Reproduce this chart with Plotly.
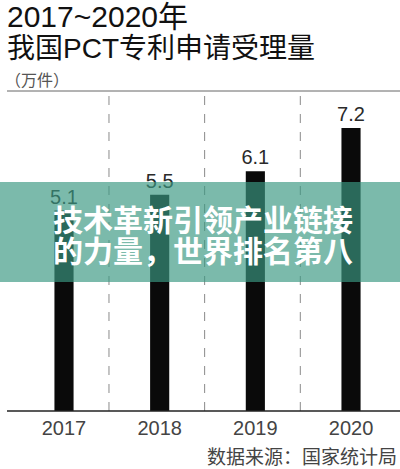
import plotly.graph_objects as go

years = [2017, 2018, 2019, 2020]
values = [5.1, 5.5, 6.1, 7.2]
value_labels = ["5.1", "5.5", "6.1", "7.2"]
tick_labels = ["2017", "2018", "2019", "2020"]

title_line1 = "2017~2020年"
title_line2 = "我国PCT专利申请受理量"
unit_text = "（万件）"
overlay_line1 = "技术革新引领产业链接"
overlay_line2 = "的力量，世界排名第八"
source_text = "数据来源：国家统计局"

W, H = 400, 469
TOP, BOTTOM = 91, 58
PLOT_H = H - TOP - BOTTOM
FONT = "Liberation Sans, Noto Sans CJK SC, sans-serif"
CJK = "Noto Sans CJK SC, sans-serif"


def py2paper(py):
    return (H - BOTTOM - py) / PLOT_H


fig = go.Figure()
fig.add_trace(go.Bar(
    x=years, y=values, width=0.2,
    marker=dict(color="#0a0a0a", line=dict(width=0)),
    text=value_labels, textposition="outside", cliponaxis=False,
    constraintext="none",
    textfont=dict(family=FONT, size=20, color="#2a2a2a"),
    hoverinfo="skip",
))

shapes = []
shapes.append(dict(type="line", xref="paper", yref="paper", x0=7/W, x1=1, y0=1, y1=1,
                   line=dict(color="#666", width=1)))
shapes.append(dict(type="line", xref="paper", yref="paper", x0=7/W, x1=1, y0=0, y1=0,
                   line=dict(color="#222", width=1.5), layer="above"))
for yv in years[:-1]:
    shapes.append(dict(type="line", xref="x", yref="paper", x0=yv + 0.47, x1=yv + 0.47,
                       y0=0, y1=1, line=dict(color="#8a8a8a", width=1, dash="dash"),
                       layer="below"))
shapes.append(dict(type="rect", xref="paper", yref="paper", x0=0, x1=1,
                   y0=py2paper(282), y1=py2paper(182), fillcolor="rgba(58,152,130,0.67)",
                   line=dict(width=0), layer="above"))


def px_ann(text, x, y, size, color, family, xanchor="left", weight=None):
    f = dict(size=size, color=color, family=family)
    if weight:
        f["weight"] = weight
    return dict(text=text, x=x / W, y=py2paper(y), xref="paper", yref="paper",
                xanchor=xanchor, yanchor="middle", showarrow=False, font=f)


annotations = [
    px_ann(title_line1, 5, 16, 30, "#111", FONT),
    px_ann(title_line2, 5, 48, 28, "#111", FONT),
    px_ann(unit_text, 3, 79, 16, "#555", CJK),
    px_ann(overlay_line1, 51, 218, 30, "#ffffff", CJK, weight="bold"),
    px_ann(overlay_line2, 51, 249, 30, "#ffffff", CJK, weight="bold"),
    px_ann(source_text, 399, 455, 19, "#444", CJK, xanchor="right"),
]

fig.update_layout(
    width=W, height=H,
    margin=dict(l=0, r=0, t=TOP, b=BOTTOM),
    paper_bgcolor="white", plot_bgcolor="white",
    showlegend=False,
    shapes=shapes,
    annotations=annotations,
    xaxis=dict(range=[2016.331, 2020.512], tickmode="array", tickvals=years,
               ticktext=tick_labels, showgrid=False, zeroline=False, showline=False,
               ticks="", ticklabelstandoff=3,
               tickfont=dict(family=FONT, size=20, color="#444")),
    yaxis=dict(range=[0, 8.14], visible=False, showgrid=False, zeroline=False),
    font=dict(family=FONT),
)
fig.write_html("out.html", config={"displayModeBar": False},
               post_script="document.body.style.margin='0';document.body.style.padding='0';")
